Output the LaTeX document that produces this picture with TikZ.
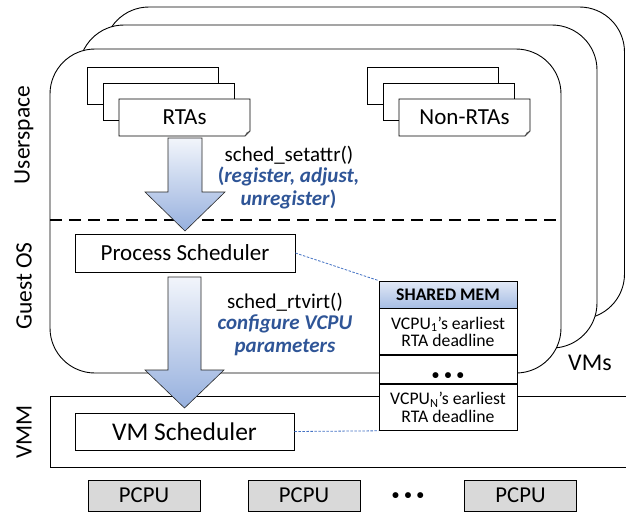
\documentclass[tikz,border=0pt]{standalone}
\usepackage{fontspec}
\setmainfont{Carlito}
\definecolor{txtblue}{RGB}{47,85,151}
\definecolor{arrblue}{RGB}{150,176,222}
\definecolor{arrtop}{RGB}{242,245,251}
\definecolor{hdtop}{RGB}{226,233,246}
\definecolor{hdbot}{RGB}{166,189,228}
\definecolor{linkblue}{RGB}{68,114,196}
\definecolor{cpugray}{RGB}{217,217,217}
\newcommand\fsz[1]{\fontsize{#1}{#1}\selectfont}
\tikzset{
  vm/.style={draw=black, fill=white, line width=0.9pt, rounded corners=45pt},
  doc/.style={draw=black, fill=white, line width=0.8pt},
  sched/.style={draw=black, fill=white, line width=0.8pt, inner sep=0pt, font=\fsz{23}},
  memrow/.style={draw=black, fill=white, line width=0.8pt, inner sep=0pt, minimum width=138, align=center, font=\fontsize{17.7}{17.5}\selectfont},
  cpu/.style={draw=black, fill=cpugray, line width=0.8pt, inner sep=0pt, minimum width=112, minimum height=31, font=\fsz{22.7}},
  blockarrow/.style={top color=arrtop, bottom color=arrblue, draw=black!85, line width=0.6pt},
  sidelabel/.style={rotate=90, font=\fsz{23.5}},
  calltext/.style={font=\fsz{21}},
  calldesc/.style={font=\fontsize{21}{22.5}\selectfont\bfseries, text=txtblue, align=center},
  link/.style={draw=linkblue, line width=0.8pt, dash pattern=on 2.5pt off 1.5pt},
  dashsep/.style={draw=black, line width=1.8pt, dash pattern=on 12pt off 7pt},
  dots/.style={font=\fsz{14}\bfseries}
}
\begin{document}
\begin{tikzpicture}[x=1pt,y=-1pt]
\clip (0,0) rectangle (626,512);
% VMs
\draw[vm] (104,7) rectangle (624.5,319);
\draw[vm] (79,25) rectangle (597,348);
\draw[vm] (50,49) rectangle (561,373);
% separator
\coordinate (sepL) at (50,220);
\coordinate (sepR) at (561,220);
\draw[dashsep] (sepL) -- (sepR);
% VMM layer
\draw[line width=0.9pt] (640,396) -| (50,467) -- (640,467);
% RTAs stack
\draw[doc] (87,67) rectangle (218,104);
\draw[doc] (103,83) rectangle (234,120);
\draw[doc] (119,99) -- (250,99) -- (250,131) -- (245,136) -- (119,136) -- cycle;
\fill[black!60] (250,131) -- (245,136) -- (246.5,132.5) -- cycle;
\node[font=\fsz{23}] (rtas) at (184.5,117.5) {RTAs};
% Non-RTAs stack
\draw[doc] (367,67) rectangle (498,104);
\draw[doc] (383,83) rectangle (514,120);
\draw[doc] (399,99) -- (530,99) -- (530,131) -- (525,136) -- (399,136) -- cycle;
\fill[black!60] (530,131) -- (525,136) -- (526.5,132.5) -- cycle;
\node[font=\fsz{23}] (nonrtas) at (464.5,117.5) {Non-RTAs};
% side labels
\node[sidelabel] (us) at (24,135) {Userspace};
\node[sidelabel] (gos) at (24,286) {Guest OS};
\node[sidelabel] (vmm) at (24,432) {VMM};
% schedulers
\node[sched, minimum width=220, minimum height=38] (ps) at (185,253) {Process Scheduler};
\node[sched, minimum width=219, minimum height=37, font=\fsz{25.5}] (vmsch) at (184.5,431.5) {VM Scheduler};
% block arrows
\shade[blockarrow] (168,138) -- (202,138) -- (202,192) -- (225,192) -- (185,231) -- (145,192) -- (168,192) -- cycle;
\shade[blockarrow] (168,277) -- (201,277) -- (201,370) -- (224,370) -- (184.5,408) -- (145,370) -- (168,370) -- cycle;
% call texts
\node[calltext] (setattr) at (289,155) {sched\_setattr()};
\node[calldesc] (reg) at (288.5,188) {(\textit{register, adjust,}\\\textit{unregister})};
\node[calltext] (rtvirt) at (285,302) {sched\_rtvirt()};
\node[calldesc, font=\fontsize{21}{23}\selectfont\bfseries\itshape] (conf) at (285,335.5) {configure VCPU\\parameters};
% shared memory
\node[memrow, minimum height=27, top color=hdtop, bottom color=hdbot, font=\fsz{17.7}\bfseries] (shm) at (448,294.5) {SHARED MEM};
\node[memrow, minimum height=46, anchor=north] (r1) at (shm.south) {VCPU\textsubscript{1}’s earliest\\RTA deadline};
\node[memrow, minimum height=28, anchor=north] (r2) at (r1.south) {};
\node[dots] (r2dots) at ([yshift=-6]r2.center) {•\hspace{5.5pt}•\hspace{5.5pt}•};
\node[memrow, minimum height=46, anchor=north] (r3) at (r2.south) {VCPU\textsubscript{N}’s earliest\\RTA deadline};
% links
\draw[link] (ps.east) -- (shm.north west);
\draw[link] (vmsch.east) -- (r3.south west);
% VMs label
\node[font=\fsz{24}] (vmslbl) at (590,363) {VMs};
% PCPUs
\node[cpu] (c1) at (144,495.5) {PCPU};
\node[cpu] (c2) at (304,495.5) {PCPU};
\node[dots] (cdots) at (408,496) {•\hspace{5.5pt}•\hspace{5.5pt}•};
\node[cpu] (c3) at (520.5,495.5) {PCPU};
\end{tikzpicture}
\end{document}
